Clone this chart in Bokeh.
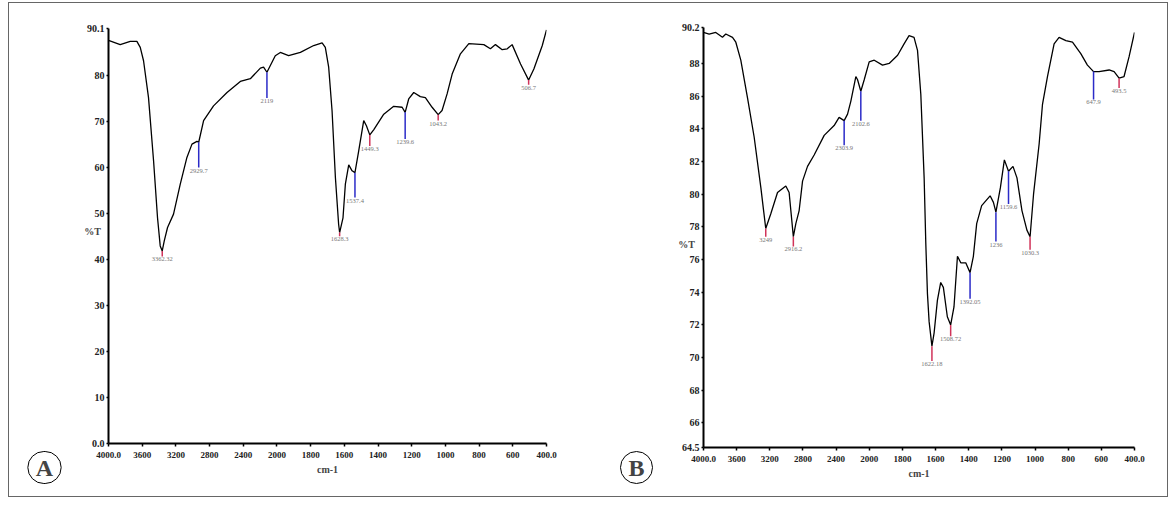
import numpy as np
from bokeh.plotting import figure
from bokeh.models import Range1d, FixedTicker, Label, ColumnDataSource
from bokeh.layouts import row, column
from bokeh.embed import file_html
from bokeh.resources import INLINE
from bokeh.core.properties import value

# ---------------- data ----------------
TICK_WN = [4000, 3600, 3200, 2800, 2400, 2000, 1800, 1600, 1400, 1200, 1000, 800, 600, 400]
TICK_LABELS = ["4000.0", "3600", "3200", "2800", "2400", "2000", "1800", "1600",
               "1400", "1200", "1000", "800", "600", "400.0"]

A_WN = [4000, 3861, 3742, 3663, 3623, 3584, 3525, 3465, 3418, 3386, 3362, 3338, 3299, 3228,
        3148, 3069, 3009, 2950, 2929, 2871, 2753, 2593, 2435, 2316, 2197, 2159, 2119, 2020,
        1980, 1931, 1861, 1782, 1732, 1713, 1693, 1673, 1653, 1634, 1628, 1608, 1594, 1574,
        1554, 1537, 1515, 1485, 1469, 1449, 1426, 1366, 1307, 1257, 1239, 1218, 1188, 1149,
        1119, 1079, 1043, 1020, 990, 960, 911, 861, 772, 733, 703, 663, 633, 604, 554, 506,
        475, 425, 400]
A_T = [87.5, 86.6, 87.3, 87.3, 86.0, 83.1, 75.1, 61.4, 49.0, 42.9, 41.8, 44.0, 46.9, 49.8,
       56.3, 62.1, 65.0, 65.6, 65.4, 70.1, 73.3, 76.2, 78.6, 79.2, 81.5, 81.7, 80.6, 84.2,
       84.9, 84.2, 84.9, 86.4, 87.0, 86.0, 81.7, 72.3, 57.7, 47.6, 45.8, 49.0, 56.3, 60.5,
       59.2, 58.8, 63.5, 70.1, 69.0, 67.0, 68.1, 71.5, 73.2, 73.0, 71.9, 74.8, 76.2, 75.3,
       75.1, 73.0, 71.4, 72.3, 75.9, 80.2, 84.6, 86.8, 86.6, 85.7, 86.6, 85.5, 85.7, 86.6,
       82.4, 78.9, 81.3, 86.4, 89.8]
A_PEAK_LABEL = ["3362.32", "2929.7", "2119", "1628.3", "1537.4", "1449.3", "1239.6", "1043.2", "506.7"]
A_PEAK_WN = [3362, 2929, 2119, 1628, 1537, 1449, 1239, 1043, 506]
A_PEAK_T = [41.8, 65.4, 80.6, 45.8, 58.8, 67.0, 71.9, 71.4, 78.9]
A_PEAK_END = [40.6, 59.9, 75.0, 45.0, 53.4, 64.6, 66.1, 70.1, 77.9]
A_PEAK_KIND = ["min", "sh", "sh", "min", "sh", "min", "sh", "min", "min"]
A_YTICKS = [0, 10, 20, 30, 40, 50, 60, 70, 80, 90.1]
A_YLABELS = ["0.0", "10", "20", "30", "40", "50", "60", "70", "80", "90.1"]

B_WN = [4000, 3932, 3852, 3771, 3731, 3650, 3610, 3550, 3469, 3389, 3308, 3249, 3188, 3107,
        3007, 2967, 2916, 2886, 2846, 2805, 2745, 2665, 2544, 2424, 2364, 2303, 2262, 2222,
        2162, 2141, 2102, 2061, 2001, 1970, 1920, 1880, 1829, 1790, 1760, 1730, 1709, 1689,
        1669, 1659, 1649, 1639, 1622, 1609, 1589, 1569, 1553, 1529, 1509, 1489, 1468, 1448,
        1418, 1392, 1372, 1352, 1322, 1271, 1251, 1236, 1209, 1185, 1160, 1133, 1109, 1079,
        1049, 1030, 1009, 975, 955, 925, 885, 855, 814, 774, 724, 684, 647, 614, 553, 523,
        493, 463, 433, 400]
B_T = [89.9, 89.8, 89.9, 89.6, 89.8, 89.6, 89.3, 88.2, 85.9, 83.5, 80.4, 77.9, 78.8, 80.1,
       80.5, 80.1, 77.4, 78.2, 79.0, 80.8, 81.7, 82.4, 83.6, 84.2, 84.7, 84.5, 84.9, 85.7,
       87.2, 87.0, 86.3, 87.0, 88.1, 88.2, 87.9, 88.0, 88.5, 89.2, 89.7, 89.6, 88.8, 86.1,
       81.0, 77.0, 73.9, 72.2, 70.7, 71.5, 73.5, 74.6, 74.3, 72.5, 72.0, 73.1, 76.2, 75.8,
       75.8, 75.2, 76.2, 78.2, 79.3, 79.9, 79.5, 78.9, 80.4, 82.1, 81.4, 81.7, 81.0, 79.0,
       77.8, 77.4, 80.0, 83.1, 85.5, 87.2, 89.2, 89.6, 89.4, 89.3, 88.6, 87.9, 87.5, 87.5,
       87.6, 87.5, 87.1, 87.2, 88.4, 89.9]
B_PEAK_LABEL = ["3249", "2916.2", "2303.9", "2102.6", "1622.18", "1508.72", "1392.05",
                "1236", "1159.6", "1030.3", "647.9", "493.5"]
B_PEAK_WN = [3249, 2916, 2303, 2102, 1622, 1509, 1392, 1236, 1160, 1030, 647, 493]
B_PEAK_T = [77.9, 77.4, 84.5, 86.3, 70.7, 72.0, 75.2, 78.9, 81.4, 77.4, 87.5, 87.1]
B_PEAK_END = [77.4, 76.8, 83.0, 84.5, 69.8, 71.3, 73.6, 77.1, 79.4, 76.6, 85.8, 86.5]
B_PEAK_KIND = ["min", "min", "sh", "sh", "min", "min", "sh", "sh", "sh", "min", "sh", "min"]
B_YTICKS = [64.5, 66, 68, 70, 72, 74, 76, 78, 80, 82, 84, 86, 88, 90.2]
B_YLABELS = ["64.5", "66", "68", "70", "72", "74", "76", "78", "80", "82", "84", "86", "88", "90.2"]

FONT = "Liberation Serif"
KIND_COLOR = {"min": "#d0335a", "sh": "#2b2bc8"}


def wn_pos(wn):
    """Piecewise-linear wavenumber axis: every tick interval gets equal width."""
    return np.interp(-np.asarray(wn, dtype=float), -np.asarray(TICK_WN, dtype=float),
                     np.arange(len(TICK_WN), dtype=float))


def panel(wn, t, pk_lab, pk_wn, pk_t, pk_end, pk_kind, yticks, ylabels, yr,
          width, mb, letter, letter_xy, pt_xy):
    p = figure(width=width, height=493, output_backend="svg", toolbar_location=None,
               x_range=Range1d(0, len(TICK_WN) - 1), y_range=Range1d(*yr),
               min_border_left=mb[0], min_border_right=mb[1],
               min_border_top=mb[2], min_border_bottom=mb[3])
    p.outline_line_color = None
    p.grid.visible = False
    p.background_fill_color = "white"
    p.border_fill_color = "white"

    p.line(wn_pos(wn), t, line_color="black", line_width=1.3)

    src = ColumnDataSource(dict(x=wn_pos(pk_wn), y0=pk_t, y1=pk_end, lab=pk_lab,
                                c=[KIND_COLOR[k] for k in pk_kind]))
    p.segment(x0="x", y0="y0", x1="x", y1="y1", line_color="c", line_width=1.5, source=src)
    p.text(x="x", y="y1", text="lab", source=src, text_font=value(FONT),
           text_font_size="6.5px", text_color="#777777", text_align="center",
           text_baseline="top", y_offset=1)

    xa = p.xaxis[0]
    xa.ticker = FixedTicker(ticks=list(range(len(TICK_WN))))
    xa.major_label_overrides = {i: s for i, s in enumerate(TICK_LABELS)}
    xa.minor_tick_line_color = None
    xa.major_tick_in = 0
    xa.major_tick_out = 3
    xa.major_label_standoff = 5
    xa.axis_line_width = 2
    xa.major_tick_line_width = 1.5
    xa.major_label_text_font = FONT
    xa.major_label_text_font_style = "bold"
    xa.major_label_text_font_size = "9px"
    xa.major_label_text_color = "#222222"
    xa.axis_label = "cm-1"
    xa.axis_label_text_font = FONT
    xa.axis_label_text_font_style = "bold"
    xa.axis_label_text_font_size = "10px"
    xa.axis_label_standoff = 3

    ya = p.yaxis[0]
    ya.ticker = FixedTicker(ticks=yticks)
    ya.major_label_overrides = {v: s for v, s in zip(yticks, ylabels)}
    ya.minor_tick_line_color = None
    ya.major_tick_in = 0
    ya.major_tick_out = 2
    ya.major_label_standoff = 2
    ya.axis_line_width = 2
    ya.major_tick_line_width = 1.5
    ya.major_label_text_font = FONT
    ya.major_label_text_font_style = "bold"
    ya.major_label_text_font_size = "10px"
    ya.major_label_text_color = "#222222"

    p.add_layout(Label(x=pt_xy[0], y=pt_xy[1], x_units="screen", y_units="screen",
                       text="%T", text_font=FONT,
                       text_font_style="bold", text_font_size="10px",
                       text_align="center", text_baseline="middle"), "left")
    p.add_layout(Label(x=letter_xy[0], y=letter_xy[1], x_units="screen", y_units="screen",
                       text=letter, text_font=FONT,
                       text_font_style="bold", text_font_size="24px",
                       text_align="center", text_baseline="middle",
                       background_fill_color="white", border_line_color="black",
                       border_line_width=1,
                       padding=dict(left=8, right=8, top=3, bottom=3),
                       border_radius=17), "left")
    return p


pA = panel(A_WN, A_T, A_PEAK_LABEL, A_PEAK_WN, A_PEAK_T, A_PEAK_END, A_PEAK_KIND,
           A_YTICKS, A_YLABELS, (0, 90.1), 590, (99, 53, 25, 53), "A",
           (11, -24), (26, 212))
pB = panel(B_WN, B_T, B_PEAK_LABEL, B_PEAK_WN, B_PEAK_T, B_PEAK_END, B_PEAK_KIND,
           B_YTICKS, B_YLABELS, (64.5, 90.2), 568, (104, 33, 24, 49), "B",
           (7, -20), (25, 203))

layout = row(column(pA), column(pB), styles={"border": "1px solid #666666",
                                             "margin-top": "2px", "margin-left": "8px"})

open("out.html", "w").write(file_html(layout, INLINE))
